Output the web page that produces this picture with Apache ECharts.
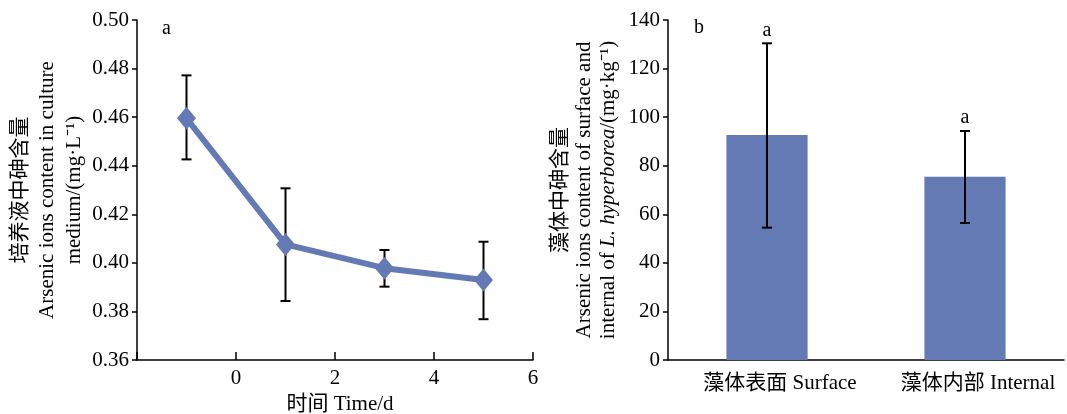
<!DOCTYPE html>
<html>
<head>
<meta charset="utf-8">
<script src="https://cdn.jsdelivr.net/npm/echarts@6/dist/echarts.min.js"></script>
<style>html,body{margin:0;padding:0;background:#fff}#c{width:1067px;height:414px}</style>
</head>
<body>
<div id="c"></div>
<script>
// Panel a: arsenic in culture medium over time
const timeDays = [-1, 1, 3, 5];
const mediumMean = [0.4595, 0.4076, 0.3978, 0.3929];
const mediumLow  = [0.4426, 0.3843, 0.3902, 0.3768];
const mediumHigh = [0.4772, 0.4307, 0.4053, 0.4087];
const xTicksA = [-2, 0, 2, 4, 6];

// Panel b: arsenic on surface / internal of L. hyperborea
const partCategories = ['藻体表面 Surface', '藻体内部 Internal'];
const partMean = [92.6, 75.5];
const partLow  = [54.5, 56.4];
const partHigh = [130.4, 94.3];
const sigLetters = ['a', 'a'];

const SERIF = '"Liberation Serif","Times New Roman","Noto Sans CJK SC",serif';
const BLUE = '#647ab5';
const axisLineStyle = {onZero: false, lineStyle: {color: '#000', width: 1.5}};

function errRender(params, api) {
  const x = api.value(0), lo = api.value(1), hi = api.value(2);
  const pHi = api.coord([x, hi]), pLo = api.coord([x, lo]);
  const w = 5;
  const st = {stroke: '#000', lineWidth: 2};
  return {type: 'group', children: [
    {type: 'line', shape: {x1: pHi[0], y1: pHi[1], x2: pLo[0], y2: pLo[1]}, style: st},
    {type: 'line', shape: {x1: pHi[0]-w, y1: pHi[1], x2: pHi[0]+w, y2: pHi[1]}, style: st},
    {type: 'line', shape: {x1: pLo[0]-w, y1: pLo[1], x2: pLo[0]+w, y2: pLo[1]}, style: st}
  ]};
}
function letterRender(params, api) {
  const p = api.coord([api.value(0), api.value(1)]);
  return {type: 'text', x: p[0], y: p[1] - 3, style: {
    text: sigLetters[params.dataIndex], font: '20px ' + SERIF, fill: '#000',
    align: 'center', verticalAlign: 'bottom'}};
}

const chart = echarts.init(document.getElementById('c'), null, {renderer: 'canvas'});
chart.setOption({
  animation: false,
  grid: [
    {left: 137, right: 534, top: 20, bottom: 54, outerBoundsMode: 'none', containLabel: false},
    {left: 668, right: 3, top: 20, bottom: 54, outerBoundsMode: 'none', containLabel: false}
  ],
  graphic: [
    {type: 'text', left: 162, top: 19, style: {text: 'a', font: '20px ' + SERIF, fill: '#000'}},
    {type: 'text', left: 694, top: 18, style: {text: 'b', font: '20px ' + SERIF, fill: '#000'}}
  ],
  xAxis: [
    {type: 'value', gridIndex: 0, min: xTicksA[0], max: xTicksA[xTicksA.length-1], interval: 2,
     axisLine: axisLineStyle, splitLine: {show: false},
     axisTick: {inside: true, length: 8, lineStyle: {color: '#000', width: 1.5}},
     axisLabel: {color: '#000', fontFamily: SERIF, fontSize: 21, margin: 8,
       formatter: v => v === xTicksA[0] ? '' : String(v)},
     name: '时间 Time/d', nameLocation: 'middle', nameGap: 32,
     nameTextStyle: {color: '#000', fontFamily: SERIF, fontSize: 21, padding: [0,0,0,10]}},
    {type: 'category', gridIndex: 1, data: partCategories,
     axisLine: axisLineStyle,
     axisTick: {inside: true, length: 8, lineStyle: {color: '#000', width: 1.5}},
     axisLabel: {color: '#000', fontFamily: SERIF, fontSize: 21, margin: 13, interval: 0,
       hideOverlap: false, padding: [0,0,0,26]}}
  ],
  yAxis: [
    {type: 'value', gridIndex: 0, min: 0.36, max: 0.5, interval: 0.02,
     axisLine: {show: true, onZero: false, lineStyle: {color: '#000', width: 1.5}}, splitLine: {show: false},
     axisTick: {show: true, length: 5, lineStyle: {color: '#000', width: 1.5}},
     axisLabel: {color: '#000', fontFamily: SERIF, fontSize: 21, margin: 8, formatter: v => v.toFixed(2)},
     name: '培养液中砷含量\nArsenic ions content in culture\nmedium/(mg·L⁻¹)',
     nameLocation: 'middle', nameRotate: 90, nameGap: 46,
     nameTextStyle: {color: '#000', fontFamily: SERIF, fontSize: 21, lineHeight: 27, align: 'center'}},
    {type: 'value', gridIndex: 1, min: 0, max: 140, interval: 20,
     axisLine: {show: true, onZero: false, lineStyle: {color: '#000', width: 1.5}}, splitLine: {show: false},
     axisTick: {show: true, length: 5, lineStyle: {color: '#000', width: 1.5}},
     axisLabel: {color: '#000', fontFamily: SERIF, fontSize: 21, margin: 8},
     name: '{t|藻体中砷含量}\n{t|Arsenic ions content of surface and}\n{t|internal of }{i|L. hyperborea}{t|/(mg·kg⁻¹)}',
     nameLocation: 'middle', nameRotate: 90, nameGap: 48,
     nameTextStyle: {color: '#000', fontFamily: SERIF, fontSize: 21, lineHeight: 24, align: 'center',
       rich: {t: {fontFamily: SERIF, fontSize: 21, color: '#000', lineHeight: 24},
              i: {fontFamily: SERIF, fontSize: 21, fontStyle: 'italic', color: '#000', lineHeight: 24}}}}
  ],
  series: [
    {type: 'custom', xAxisIndex: 0, yAxisIndex: 0, z: 1, renderItem: errRender,
     data: timeDays.map((t, i) => [t, mediumLow[i], mediumHigh[i]])},
    {type: 'line', xAxisIndex: 0, yAxisIndex: 0, z: 3,
     data: timeDays.map((t, i) => [t, mediumMean[i]]),
     lineStyle: {color: BLUE, width: 6}, itemStyle: {color: BLUE},
     symbol: 'diamond', symbolSize: [19, 23]},
    {type: 'bar', xAxisIndex: 1, yAxisIndex: 1, z: 1, data: partMean, barWidth: '41%',
     itemStyle: {color: BLUE}},
    {type: 'custom', xAxisIndex: 1, yAxisIndex: 1, z: 3, renderItem: errRender,
     data: partCategories.map((c, i) => [i, partLow[i], partHigh[i]])},
    {type: 'custom', xAxisIndex: 1, yAxisIndex: 1, z: 3, renderItem: letterRender,
     data: partCategories.map((c, i) => [i, partHigh[i]])}
  ]
});
</script>
</body>
</html>
